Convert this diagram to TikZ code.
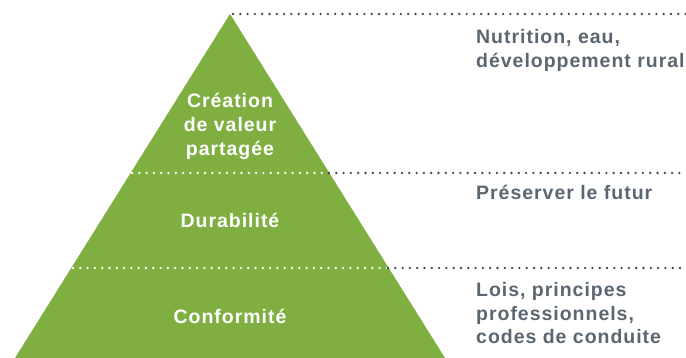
\documentclass[tikz,border=0pt]{standalone}
\usepackage{fontspec}
\setmainfont[LetterSpace=5]{Liberation Sans}
\definecolor{pgreen}{HTML}{80AF41}
\definecolor{tgray}{HTML}{5B6670}
\definecolor{dotgray}{HTML}{3E454C}
\tikzset{
  dotline/.style={line width=2.6pt, line cap=round, dash pattern=on 0pt off 7.3pt},
  intext/.style={text=white, font=\fontsize{19.5}{24}\selectfont\bfseries, inner sep=0pt, anchor=base},
  outtext/.style={text=tgray, font=\fontsize{19.5}{23.5}\selectfont\bfseries, inner sep=0pt, anchor=base west},
}
\begin{document}
\begin{tikzpicture}[x=1pt,y=1pt]
\useasboundingbox (0,0) rectangle (686,358);
\coordinate (apex) at (230,344);
\coordinate (bl) at (15,0);
\coordinate (br) at (445,0);
\fill[pgreen] (apex) -- (br) -- (bl) -- cycle;
% dotted lines
\coordinate (t1) at (233,344);
\coordinate (t2) at (686,344);
\draw[dotline, dotgray] (t1) -- (t2);
\coordinate (m1) at (132,185);
\coordinate (m2) at (329,185);
\coordinate (m3) at (686,185);
\draw[dotline, white] (m1) -- (m2);
\draw[dotline, dotgray] (m2) -- (m3);
\coordinate (b1) at (73,90);
\coordinate (b2) at (388,90);
\coordinate (b3) at (686,90);
\draw[dotline, white] (b1) -- (b2);
\draw[dotline, dotgray] (b2) -- (b3);
% inner texts
\node[intext] (cre1) at (230,250) {Création};
\node[intext] (cre2) at (230,226) {de valeur};
\node[intext] (cre3) at (230,202) {partagée};
\node[intext] (durab) at (230,130) {Durabilité};
\node[intext] (conf) at (230,34) {Conformité};
% outer texts
\node[outtext] (nut1) at (476,314) {Nutrition, eau,};
\node[outtext] (nut2) at (476,290.5) {développement rural};
\node[outtext] (pres) at (476,158) {Préserver le futur};
\node[outtext] (lois1) at (476,61) {Lois, principes};
\node[outtext] (lois2) at (476,37.5) {professionnels,};
\node[outtext] (lois3) at (476,14) {codes de conduite};
\end{tikzpicture}
\end{document}
